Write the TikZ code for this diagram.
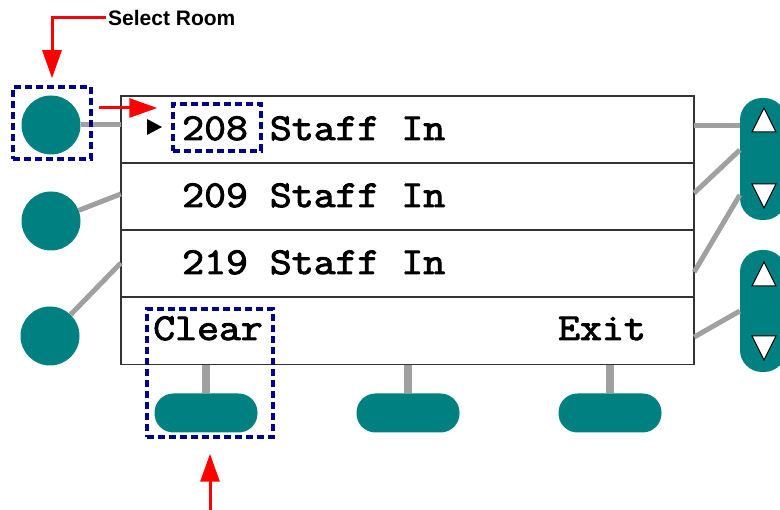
\documentclass[tikz,border=0pt]{standalone}
\usepackage{fontspec}
\setmainfont{Liberation Sans}
\newfontfamily\lcdfont{Latin Modern Mono}[FakeBold=2.6,FakeStretch=1.12]
\usepackage{tikz}
\usetikzlibrary{arrows.meta}

\definecolor{keyteal}{RGB}{0,128,128}
\definecolor{selnavy}{RGB}{0,0,140}
\definecolor{wire}{RGB}{160,160,160}

\begin{document}
\begin{tikzpicture} [x=1pt,y=-1pt,
    key/.style= {shape=circle,fill=keyteal,minimum size=59pt,inner sep=0},
    soft/.style= {shape=rectangle,fill=keyteal,rounded corners=19pt,minimum width=103pt,minimum height=39pt,inner sep=0},
    rocker/.style= {shape=rectangle,fill=keyteal,rounded corners=22pt,minimum width=46pt,minimum height=122pt,inner sep=0},
    row/.style= {shape=rectangle,draw=black!80,line width=1.5pt,fill=white,minimum width=573pt,minimum height=67pt,inner sep=0},
    lcd/.style= {font=\fontsize{38}{38}\lcdfont,inner sep=0,anchor=base west},
    selbox/.style= {draw=selnavy,line width=3.5pt,dash pattern=on 7pt off 4pt,inner sep=0},
    wireline/.style= {draw=wire,line width=5pt},
    hint/.style= {draw=red,line width=3pt,-{Triangle[length=28pt,width=19pt]}},
    tri/.style= {fill=white,draw=black,line width=1pt,line join=miter}]
    \useasboundingbox (0,0) rectangle (780,510);

    % screen rows
    \foreach \j/\y in {1/129.5,2/196.5,3/263.5,4/331}{%
        \node[row] (row\j) at (407.5,\y) {};}
    \node[inner sep=0,minimum width=573pt,minimum height=269pt] (screen) at (407.5,230.5) {};
    \node[lcd] (t1) at (182,140) {208 Staff In};
    \node[lcd] (t2) at (182,207) {209 Staff In};
    \node[lcd] (t3) at (182,274) {219 Staff In};
    \node[lcd] (t4) at (153,340) {Clear};
    \node[lcd,anchor=base east] (t5) at (646,340) {Exit};
    \fill (147,119) -- (162,127) -- (147,135) -- cycle;

    % line keys
    \node[key] (lk1) at (51,125) {};
    \node[key] (lk2) at (51,221) {};
    \node[key] (lk3) at (50,336) {};
    \draw[wireline] (lk1.east) -- (screen.west |- lk1.east);
    \draw[wireline] (lk2.21) -- (screen.west |- 0,194);
    \draw[wireline] (lk3.46) -- (screen.west |- 0,263);

    % soft keys
    \foreach \i/\x in {1/206,2/408,3/610}{%
        \node[soft] (sk\i) at (\x,413) {};
        \draw[wireline,line width=8pt] (sk\i.north) -- (sk\i.north |- screen.south);}

    % rockers
    \node[rocker] (rk1) at (763,159) {};
    \node[rocker] (rk2) at (763,311) {};
    \draw[wireline] (screen.east |- 0,126) -- (rk1.west |- 0,126);
    \draw[wireline] (screen.east |- 0,193) -- (rk1.west |- 0,150);
    \draw[wireline] (screen.east |- 0,272) -- (rk1.west |- 0,195);
    \draw[wireline] (screen.east |- 0,337) -- (rk2.west |- 0,311);
    \foreach \y in {108,262}{%
        \draw[tri] (764,\y) -- (776,\y+24) -- (752,\y+24) -- cycle;}
    \foreach \y in {184,336}{%
        \draw[tri] (752,\y) -- (776,\y) -- (764,\y+24) -- cycle;}

    % selection marks
    \node[selbox,minimum width=78pt,minimum height=72pt] (selkey) at (52,123) {};
    \node[selbox,minimum width=88pt,minimum height=47pt] (selnum) at (217,127.5) {};
    \node[selbox,minimum width=126pt,minimum height=128pt] (selsoft) at (210,373) {};

    \node[font=\fontsize{21}{21}\selectfont\bfseries,inner sep=2pt,anchor=west] (selroom) at (106,18) {Select Room};
    \coordinate (hintA) at (99,108);
    \coordinate (hintB) at (210,510);
    \draw[hint,shorten >=7pt] (selroom.west) -| (selkey.north);
    \draw[hint,shorten >=14pt] (hintA) -- (selnum.west |- hintA);
    \draw[hint,shorten >=15pt] (hintB) -- (selsoft.south);
\end{tikzpicture}
\end{document}
